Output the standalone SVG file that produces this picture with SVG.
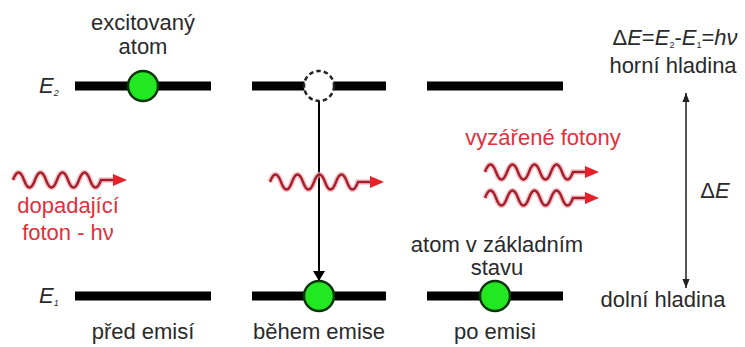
<svg xmlns="http://www.w3.org/2000/svg" xmlns:xlink="http://www.w3.org/1999/xlink" width="745" height="347" viewBox="0 0 745 347">
<style>
text{font-family:"Liberation Sans",Arial,sans-serif;font-size:22px;fill:#2a2a2a}
.red{fill:#e0303a}
.it{font-style:italic}
.sub{font-size:9px}
.bar{stroke:#000;stroke-width:9}
.atom{fill:#22e822;stroke:#063606;stroke-width:2.5}
.halo{fill:none;stroke:#f3a9b0;stroke-width:5.5;opacity:.7}
.wave{fill:none;stroke:#a31f2c;stroke-width:2.4}
.ah{fill:#e8202a}
</style>
<defs>
<g id="photon">
<path class="halo" d="M0,0 q5.5,-15 11,0 t11,0 t11,0 t11,0 t11,0 t11,0 t11,0 t11,0 l14,0"/>
<path class="wave" d="M0,0 q5.5,-15 11,0 t11,0 t11,0 t11,0 t11,0 t11,0 t11,0 t11,0 l14,0"/>
<polygon class="ah" points="100,-6 114,0 100,6"/>
</g>
<marker id="blk" viewBox="0 0 10 12" refX="10" refY="6" markerWidth="10" markerHeight="12" markerUnits="userSpaceOnUse" orient="auto">
<path d="M0,0 L10,6 L0,12 z" fill="#000"/>
</marker>
<marker id="gry" viewBox="0 0 10 8" refX="10" refY="4" markerWidth="9" markerHeight="8" markerUnits="userSpaceOnUse" orient="auto-start-reverse">
<path d="M0,0 L10,4 L0,8 z" fill="#222"/>
</marker>
</defs>

<g id="levels">
<line class="bar" x1="75" y1="86" x2="211" y2="86"/>
<line class="bar" x1="252" y1="86" x2="386" y2="86"/>
<line class="bar" x1="427" y1="86" x2="563" y2="86"/>
<line class="bar" x1="75" y1="296" x2="211" y2="296"/>
<line class="bar" x1="252" y1="296" x2="386" y2="296"/>
<line class="bar" x1="427" y1="296" x2="563" y2="296"/>
</g>

<g id="connectors">
<line x1="319" y1="101" x2="319" y2="281" stroke="#000" stroke-width="2" marker-end="url(#blk)"/>
<line x1="686" y1="93" x2="686" y2="288" stroke="#555" stroke-width="2" marker-start="url(#gry)" marker-end="url(#gry)"/>
</g>

<g id="atom-before">
<circle class="atom" cx="143" cy="86" r="15"/>
</g>
<g id="atom-during-empty">
<circle cx="319" cy="86" r="15" fill="#fff" stroke="#222" stroke-width="2.5" stroke-dasharray="4.5,3"/>
</g>
<g id="atom-during">
<circle class="atom" cx="319" cy="296" r="15"/>
</g>
<g id="atom-after">
<circle class="atom" cx="495" cy="296" r="15"/>
</g>

<g id="photons">
<use xlink:href="#photon" x="13" y="180"/>
<use xlink:href="#photon" x="270" y="182"/>
<use xlink:href="#photon" x="485" y="172"/>
<use xlink:href="#photon" x="485" y="198"/>
</g>

<g id="labels">
<text x="143" y="30" text-anchor="middle">excitovaný</text>
<text x="143" y="54" text-anchor="middle">atom</text>
<text x="39" y="93" font-size="19" class="it">E<tspan class="sub" dy="3">2</tspan></text>
<text x="39" y="303" font-size="19" class="it">E<tspan class="sub" dy="3">1</tspan></text>
<text x="68" y="213" text-anchor="middle" class="red">dopadající</text>
<text x="68" y="240" text-anchor="middle" class="red">foton - hν</text>
<text x="543" y="145" text-anchor="middle" class="red">vyzářené fotony</text>
<text x="497" y="252" text-anchor="middle">atom v základním</text>
<text x="497" y="275" text-anchor="middle">stavu</text>
<text x="143" y="339" text-anchor="middle">před emisí</text>
<text x="319" y="339" text-anchor="middle">během emise</text>
<text x="495" y="339" text-anchor="middle">po emisi</text>
<text x="675" y="45" text-anchor="middle" font-size="20">Δ<tspan class="it">E</tspan>=<tspan class="it">E</tspan><tspan class="sub" dy="3">2</tspan><tspan dy="-3">-</tspan><tspan class="it">E</tspan><tspan class="sub" dy="3">1</tspan><tspan dy="-3">=</tspan><tspan class="it">hν</tspan></text>
<text x="673" y="73" text-anchor="middle">horní hladina</text>
<text x="715" y="198" text-anchor="middle">Δ<tspan class="it">E</tspan></text>
<text x="663" y="307" text-anchor="middle">dolní hladina</text>
</g>
</svg>
